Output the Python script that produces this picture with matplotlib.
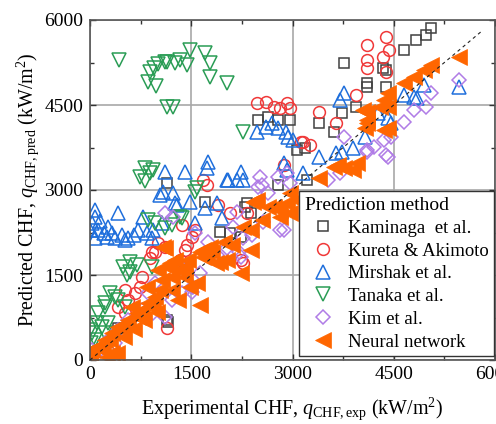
import matplotlib
matplotlib.use("Agg")
import matplotlib.pyplot as plt
import numpy as np

plt.rcParams['font.family'] = ['Liberation Serif', 'DejaVu Serif']
plt.rcParams['mathtext.fontset'] = 'custom'
plt.rcParams['mathtext.rm'] = 'Liberation Serif'
plt.rcParams['mathtext.it'] = 'Liberation Serif:italic'

# ---------------- data (experimental, predicted) in kW/m^2 ----------------
kaminaga_x = [2490, 2630, 2780, 2970, 3070, 3760, 4110, 4110, 4380, 4380, 3940, 3740, 3390, 3610,
              3190, 3220, 4340, 4650, 4830, 4975, 5050, 1710, 2300, 1930, 2080, 2230, 2790, 1140,
              1140, 2330, 2380, 1160, 420]
kaminaga_y = [4240, 4290, 4240, 4240, 3710, 5240, 4890, 4820, 4820, 5120, 4470, 4360, 4180, 4020,
              3740, 3180, 5150, 5470, 5650, 5740, 5860, 2790, 2700, 2260, 2240, 2170, 3090, 700,
              3120, 2770, 2590, 670, 560]

kureta_x = [2480, 2600, 2720, 2820, 2925, 2970, 3120, 2870, 4380, 4110, 4425, 4335, 4110, 4110,
            4380, 3940, 3390, 3640, 3160, 3265, 1010, 1115, 920, 890, 770, 740, 670, 565, 520, 415,
            1140, 965, 1410, 1515, 1560, 1365, 1440, 1740, 1900, 2080, 2330, 2230, 1340, 2260,
            1680, 520]
kureta_y = [4530, 4550, 4470, 4450, 4530, 4450, 3850, 3440, 5700, 5560, 5470, 5350, 5300, 5150,
            5080, 4680, 4380, 4180, 3850, 3790, 2060, 2000, 1900, 1800, 1470, 1290, 1180, 1060, 830, 940,
            560, 1900, 1940, 2170, 2300, 2380, 2030, 3090, 2740, 2590, 2590, 1760, 1760, 1710,
            3180, 1240]

mirshak_x = [75, 75, 30, 120, 75, 270, 250, 415, 370, 520, 565, 710, 790, 845, 935, 920, 1040, 1085,
             1070, 1235, 1260, 1290, 1485, 1560, 1710, 1885, 1960, 2035, 2180, 1110, 1410, 1750,
             1740, 2050, 2230, 2260, 2480, 2600, 2700, 2790, 2900, 2940, 3000, 3760, 3710, 4260,
             4410, 4455, 4650, 4800, 4950, 5465, 3390, 3640, 3740, 3900, 3160, 2870, 2920, 4080,
             150, 200, 0, 330, 480, 650, 4850]
mirshak_y = [2650, 2530, 2420, 2300, 2150, 2350, 2170, 2590, 2150, 2120, 2150, 2300, 2530, 2240,
             2300, 2150, 2910, 2970, 2420, 2950, 2770, 2740, 2790, 2420, 2680, 2770, 2500, 3180,
             3180, 3320, 3320, 3500, 3390, 3180, 3320, 3180, 4020, 4110, 4180, 4090, 4020, 3940,
             3880, 4710, 4590, 4360, 4270, 4180, 4680, 4640, 4850, 4820, 3580, 3650, 3670, 3740,
             3300, 3470, 3350, 3940, 2450, 2250, 2300, 2250, 2200, 2200, 4620]

tanaka_x = [430, 890, 950, 1000, 1140, 1110, 1260, 1340, 1440, 1485, 1710, 1780, 1780, 2035, 860,
            980, 1140, 1230, 2260, 820, 740, 890, 940, 865, 965, 1115, 1220, 1370, 815, 595, 490,
            700, 595, 920, 550, 300, 370, 220, 120, 100, 180, 220, 30, 75, 20, 415, 220, 520, 270,
            0, 1560, 1340, 1590]
tanaka_y = [5300, 5080, 5150, 5230, 5260, 5260, 5240, 5300, 5200, 5470, 5420, 5240, 5000, 4890,
            4910, 4840, 4470, 4470, 4030, 3390, 3230, 3300, 3350, 2470, 2420, 2330, 2380, 2500, 3160,
            1730, 1640, 1680, 1550, 1640, 1500, 1180, 1110, 935, 830, 650, 580, 475, 475, 350, 300,
            1060, 1000, 935, 650, 530, 2970, 2530, 3030]

kim_x = [5465, 5050, 4980, 4800, 4650, 4455, 4350, 4110, 4410, 4200, 3760, 3710, 3520, 2970, 4380,
         4110, 2820, 2490, 2630, 2270, 2030, 1880, 2230, 1630, 1510, 2120, 2400, 2570, 2180, 1110,
         1230, 1310, 1410, 965, 860, 1110, 770, 565, 415, 270, 150, 30, 0, 370, 1515, 1365, 1220,
         2870, 2920, 2550, 1560, 1750, 2200, 1530, 935, 2780, 2920, 2520]
kim_y = [4940, 4710, 4470, 4410, 4200, 3940, 3880, 3710, 3580, 3760, 3940, 3300, 3180, 3120, 3620,
         3670, 2300, 3050, 2950, 2150, 1980, 1850, 1820, 1540, 1200, 2350, 2200, 2440, 2610, 2590,
         2530, 1710, 1640, 1360, 1180, 760, 880, 700, 530, 350, 175, 175, 0, 300, 1290, 1180, 1060,
         2300, 2650, 3090, 2240, 2080, 1900, 1290, 830, 3230, 3300, 3230]

nn_x = [5465, 5050, 4950, 4800, 4650, 4410, 4350, 4300, 4110, 4110, 4080, 4410, 3670, 3760, 3900,
        3390, 2480, 2720, 2820, 2970, 3070, 2270, 2380, 1980, 2110, 2380, 1780, 1680, 2030, 2230,
        1590, 1630, 1860, 1680, 1110, 1260, 1160, 1410, 1070, 1220, 965, 860, 770, 710, 565, 415,
        330, 220, 120, 30, 0, 620, 920, 1310, 1220, 1010, 1455, 1485, 1410, 1630, 1810, 1740,
        1930, 2550, 2820, 2920, 2970, 2420, 2630, 1085, 1190, 1340, 845, 1040, 935, 995, 700, 490,
        300, 100, 0, 190, 400, 4050, 4410, 4350, 4110, 3610, 3960, 250, 330, 500, 650, 800]
nn_y = [5350, 5200, 5120, 5000, 4890, 4710, 4590, 4470, 4380, 4180, 4090, 4090, 3440, 3390, 3350,
        3210, 2820, 2700, 2650, 2590, 2820, 2350, 2300, 2080, 2030, 1940, 2000, 1820, 1760, 1540,
        1360, 970, 1710, 1940, 1980, 1760, 1640, 1470, 1410, 1240, 1110, 1000, 880, 760, 700, 580,
        470, 350, 230, 175, 90, 940, 940, 1060, 1470, 1590, 1760, 1290, 1640, 1900, 1900, 1800,
        1730, 2470, 2530, 2770, 2950, 2790, 2700, 2000, 1710, 1590, 1290, 1240, 1000, 850, 830, 580,
        350, 230, 120, 175, 120, 4410, 4470, 4060, 4240, 3410, 3480, 60, 130, 400, 550, 700]

diag = [0, 5800]

labels = ["Kaminaga  et al.", "Kureta & Akimoto", "Mirshak et al.", "Tanaka et al.",
          "Kim et al.", "Neural network"]

# ---------------- figure ----------------
fig = plt.figure(figsize=(4.96, 4.24), dpi=100)
ax = fig.add_axes([90 / 496, 64 / 424, 405 / 496, 340 / 424])

mew = 1.1
h1, = ax.plot(kaminaga_x, kaminaga_y, ls='none', marker='s', ms=7, mfc='none', mec='#404040', mew=mew)
h2, = ax.plot(kureta_x, kureta_y, ls='none', marker='o', ms=8.5, mfc='none', mec='#f03838', mew=mew)
h3, = ax.plot(mirshak_x, mirshak_y, ls='none', marker='^', ms=9.5, mfc='none', mec='#1f6fdc', mew=mew)
h4, = ax.plot(tanaka_x, tanaka_y, ls='none', marker='v', ms=9.5, mfc='none', mec='#2a9d55', mew=mew)
h5, = ax.plot(kim_x, kim_y, ls='none', marker='D', ms=7, mfc='none', mec='#b07ce6', mew=mew)
h6, = ax.plot(nn_x, nn_y, ls='none', marker='<', ms=11, mfc='#ff6600', mec='#ff6600', mew=0.5)
ax.plot(diag, diag, color='#222222', lw=0.8, ls=(0, (3, 3)), zorder=5)

ax.set_xlim(0, 6000)
ax.set_ylim(0, 6000)
ticks = [0, 1500, 3000, 4500, 6000]
ax.set_xticks(ticks)
ax.set_yticks(ticks)
ax.set_xticks(np.arange(0, 6001, 750), minor=True)
ax.set_yticks(np.arange(0, 6001, 750), minor=True)
ax.grid(True, which='major', color='#a8a8a8', lw=1.2)
ax.set_axisbelow(True)
ax.tick_params(which='both', direction='in', top=True, right=True, labelsize=14, colors='#333333')
ax.tick_params(which='major', length=4, width=1)
ax.tick_params(which='minor', length=3, width=1)
ax.tick_params(axis='y', pad=5, labelcolor='black')
ax.tick_params(axis='x', pad=4, labelcolor='black')
for s in ax.spines.values():
    s.set_color('#555555')
    s.set_linewidth(1.2)

ax.set_xlabel(r"Experimental CHF, $q_{\mathrm{CHF,exp}}$ (kW/m$^2$)", fontsize=14.4, labelpad=9)
ax.set_ylabel(r"Predicted CHF, $q_{\mathrm{CHF,pred}}$ (kW/m$^2$)", fontsize=14.4, labelpad=2)

leg = fig.legend([h1, h2, h3, h4, h5, h6], labels, title="Prediction method",
                 loc='lower right', bbox_to_anchor=(0.996, 0.160), bbox_transform=fig.transFigure,
                 fontsize=13.5, title_fontsize=14, frameon=True, fancybox=False, framealpha=1,
                 edgecolor='#333333', borderpad=0.3, labelspacing=0.3, handlelength=2.0,
                 handletextpad=0.3, borderaxespad=0, alignment='left')
leg.get_frame().set_linewidth(1.0)

fig.savefig("out.png", dpi=100)
